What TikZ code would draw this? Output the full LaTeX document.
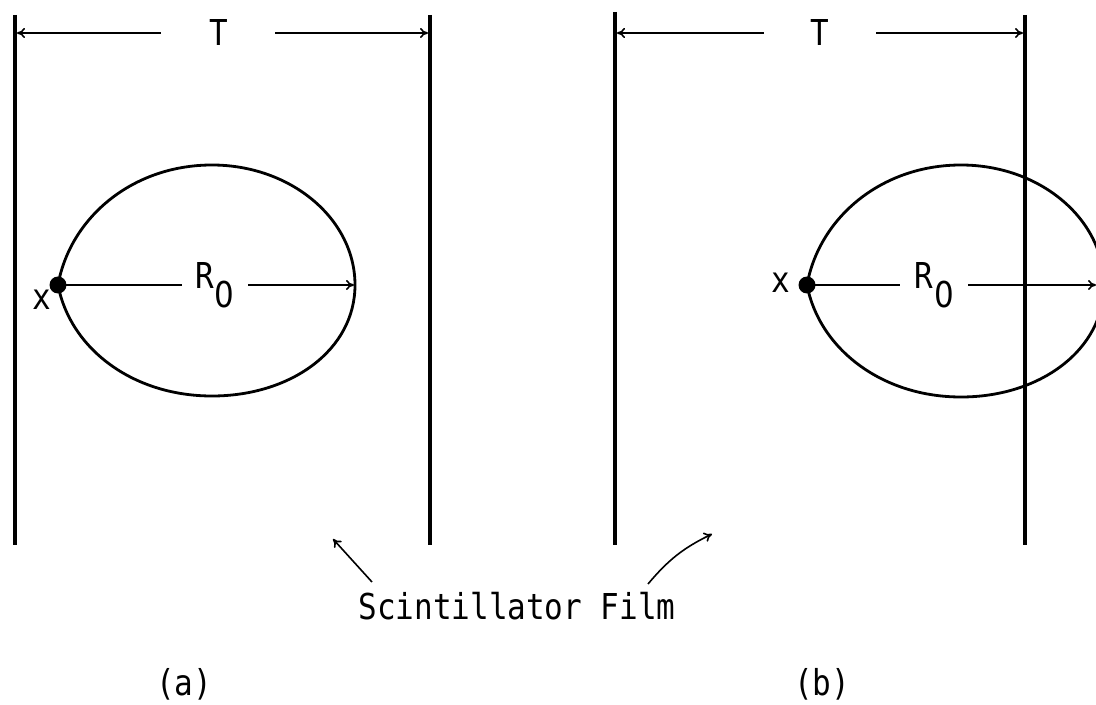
\documentclass[tikz,border=0pt]{standalone}
\usepackage{fontspec}
\usepackage{graphicx}
\setmonofont{DejaVu Sans Mono}
\newfontfamily\zerofont{DejaVu Sans}
\usetikzlibrary{arrows.meta}
\newcommand\tallt[1]{\scalebox{1}[1.15]{#1}}
\newcommand\Rsub{\tallt{R}\kern0.5pt\raisebox{-0.6em}{\tallt{\zerofont 0}}}
\begin{document}
\begin{tikzpicture}[x=0.5pt,y=-0.5pt,
  wall/.style={line width=2.4pt},
  egg/.style={line width=1.4pt},
  dim/.style={line width=0.8pt,{To[length=4pt,width=5pt]}-{To[length=4pt,width=5pt]}},
  ray/.style={line width=0.8pt,-{To[length=4pt,width=5pt]}},
  lab/.style={font=\ttfamily\fontsize{15.5}{16}\selectfont, inner sep=0pt},
  gap/.style={fill=white, inner sep=0pt, minimum height=20pt},
  dotx/.style={circle, fill=black, inner sep=0pt, minimum size=8.5pt},
]
\useasboundingbox (0,0) rectangle (1096,705);
\clip (0,0) rectangle (1096,705);

% ---------- panel (a) ----------
\coordinate (aW1t) at (15,15);  \coordinate (aW1b) at (15,545);
\coordinate (aW2t) at (430,15); \coordinate (aW2b) at (430,545);
\draw[wall] (aW1t) -- (aW1b);
\draw[wall] (aW2t) -- (aW2b);
\coordinate (aTL) at (17,33); \coordinate (aTR) at (428,33);
\draw[dim] (aTL) -- (aTR) node[pos=0.49, gap, minimum width=57pt, lab] (aT) {\tallt{T}};

\draw[egg] (58,285) .. controls (70,218) and (132,165) .. (212,165)
  .. controls (291,165) and (355,219) .. (355,285)
  .. controls (355,350) and (291,396) .. (212,396)
  .. controls (132,396) and (70,348) .. (58,285);
\node[dotx] (aX) at (58,285) {};
\coordinate (aRtip) at (354,285);
\draw[ray] (aX.center) -- (aRtip) node[pos=0.53, gap, minimum width=33pt, lab] (aR) {\Rsub};
\node[lab] (ax) at (42,300) {\tallt{x}};

% ---------- panel (b) ----------
\coordinate (bW1t) at (615,12);  \coordinate (bW1b) at (615,545);
\coordinate (bW2t) at (1025,15); \coordinate (bW2b) at (1025,545);
\draw[wall] (bW1t) -- (bW1b);
\draw[wall] (bW2t) -- (bW2b);
\coordinate (bTL) at (617,33); \coordinate (bTR) at (1023,33);
\draw[dim] (bTL) -- (bTR) node[pos=0.5, gap, minimum width=56pt, lab] (bT) {\tallt{T}};

\draw[egg] (807,285) .. controls (819,218) and (881,165) .. (961,165)
  .. controls (1040,165) and (1104,219) .. (1104,285)
  .. controls (1104,350) and (1040,397) .. (961,397)
  .. controls (881,397) and (819,348) .. (807,285);
\node[dotx] (bX) at (807,285) {};
\coordinate (bRtip) at (1096,285);
\draw[ray] (bX.center) -- (bRtip) node[pos=0.44, gap, minimum width=34pt, lab] (bR) {\Rsub};
\node[lab] (bx) at (781,283) {\tallt{x}};

% ---------- label ----------
\node[lab] (film) at (517,606) {\tallt{Scintillator Film}};
\coordinate (fa) at (333,539);
\coordinate (fb) at (712,534);
\draw[ray] (372,582) -- (fa);
\draw[ray] (648,584) to[bend left=12] (fb);

\node[lab] (capa) at (184,684) {\tallt{(a)}};
\node[lab] (capb) at (822,684) {\tallt{(b)}};
\end{tikzpicture}
\end{document}
